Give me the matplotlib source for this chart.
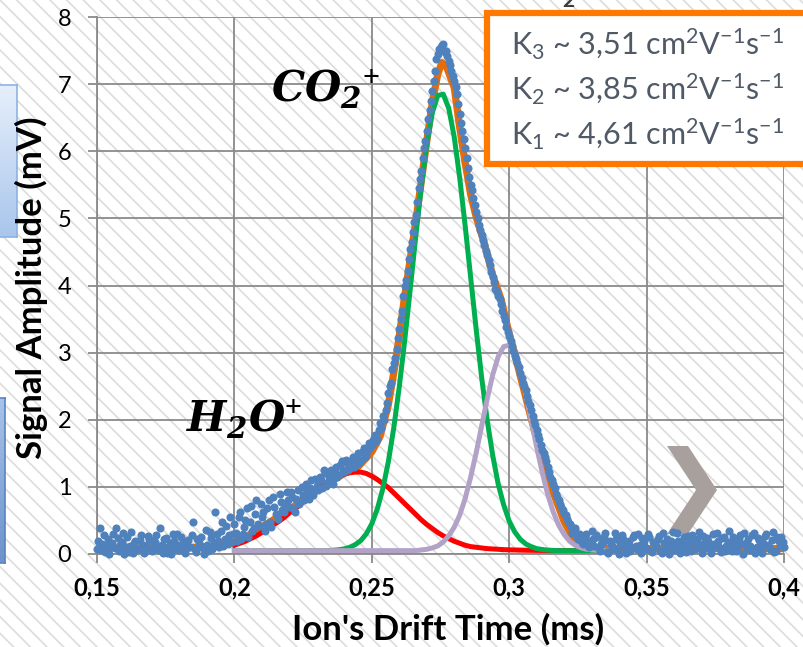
import numpy as np
import matplotlib.pyplot as plt
from matplotlib.patches import Rectangle, Polygon
from matplotlib.colors import LinearSegmentedColormap

plt.rcParams['font.family'] = ['Lato', 'DejaVu Sans']
plt.rcParams['mathtext.fontset'] = 'custom'
plt.rcParams['mathtext.rm'] = 'Lato'
plt.rcParams['mathtext.it'] = 'Lato:italic'
plt.rcParams['mathtext.bf'] = 'Lato:bold'
plt.rcParams['mathtext.bfit'] = 'DejaVu Serif:italic:bold'
plt.rcParams['hatch.linewidth'] = 1.2
plt.rcParams['hatch.color'] = '#dcdcdc'

W, H = 804, 647

def fx(px):
    return px / W

def fy(py):
    return 1 - py / H

# measured signal, one sample every 0.001 ms from 0.150 to 0.400
signal_time = np.round(np.arange(0.150, 0.4001, 0.001), 4)
signal_mv = [
    0.08, 0.38, 0.15, 0.03, 0.22, 0.10, 0.30, 0.39, 0.05, 0.18,
    0.00, 0.25, 0.12, 0.02, 0.20, 0.08, 0.28, 0.01, 0.14, 0.22,
    0.04, 0.18, 0.09, 0.39, 0.02, 0.24, 0.11, 0.00, 0.19, 0.30,
    0.06, 0.15, 0.01, 0.21, 0.10, 0.47, 0.03, 0.17, 0.26, 0.00,
    0.14, 0.33, 0.08, 0.62, 0.20, 0.35, 0.12, 0.42, 0.28, 0.18,
    0.45, 0.20, 0.62, 0.30, 0.50, 0.25, 0.72, 0.38, 0.80, 0.42,
    0.55, 0.35, 0.68, 0.48, 0.85, 0.60, 0.52, 0.78, 0.62, 0.92,
    0.70, 0.85, 0.62, 0.95, 0.78, 0.88, 1.05, 0.82, 1.10, 0.95,
    1.02, 1.15, 0.98, 1.20, 1.08, 1.25, 1.05, 1.30, 1.18, 1.38,
    1.22, 1.35, 1.28, 1.45, 1.32, 1.50, 1.40, 1.58, 1.48, 1.65,
    1.62, 1.78, 1.72, 1.95, 2.05, 2.15, 2.40, 2.55, 2.85, 3.05,
    3.35, 3.62, 4.00, 4.22, 4.55, 4.80, 5.05, 5.45, 5.70, 6.05,
    6.30, 6.62, 6.90, 7.20, 7.45, 7.55, 7.60, 7.50, 7.35, 7.20,
    7.05, 6.85, 6.55, 6.30, 6.05, 5.75, 5.50, 5.30, 5.10, 4.90,
    4.75, 4.60, 4.45, 4.30, 4.12, 3.95, 3.85, 3.72, 3.55, 3.38,
    3.25, 3.10, 2.95, 2.85, 2.70, 2.55, 2.45, 2.28, 2.15, 1.98,
    1.85, 1.72, 1.55, 1.45, 1.30, 1.15, 1.05, 0.90, 0.80, 0.70,
    0.60, 0.52, 0.45, 0.32, 0.38, 0.22, 0.28, 0.15, 0.30, 0.10,
    0.35, 0.12, 0.25, 0.05, 0.18, 0.32, 0.02, 0.15, 0.08, 0.22,
    0.00, 0.28, 0.10, 0.17, 0.04, 0.25, 0.12, 0.30, 0.01, 0.19,
    0.08, 0.26, 0.03, 0.15, 0.22, 0.05, 0.31, 0.11, 0.00, 0.20,
    0.14, 0.32, 0.02, 0.18, 0.09, 0.27, 0.04, 0.21, 0.13, 0.33,
    0.01, 0.16, 0.24, 0.07, 0.30, 0.10, 0.19, 0.03, 0.26, 0.12,
    0.34, 0.05, 0.20, 0.09, 0.28, 0.00, 0.17, 0.23, 0.06, 0.31,
    0.11, 0.21, 0.02, 0.27, 0.14, 0.08, 0.33, 0.04, 0.19, 0.25, 0.10,
]

# second sweep, sampled half way between (0.1505 .. 0.3995)
signal_time_b = np.round(np.arange(0.1505, 0.4000, 0.001), 4)
signal_mv_b = [
    0.20, 0.06, 0.28, 0.12, 0.00, 0.17, 0.09, 0.24, 0.13, 0.31,
    0.10, 0.03, 0.33, 0.16, 0.07, 0.21, 0.12, 0.05, 0.27, 0.09,
    0.19, 0.28, 0.06, 0.14, 0.23, 0.01, 0.16, 0.30, 0.08, 0.13,
    0.25, 0.04, 0.18, 0.11, 0.29, 0.07, 0.22, 0.13, 0.09, 0.36,
    0.05, 0.24, 0.17, 0.30, 0.11, 0.48, 0.22, 0.15, 0.55, 0.30,
    0.32, 0.55, 0.22, 0.40, 0.68, 0.48, 0.35, 0.60, 0.45, 0.75,
    0.62, 0.45, 0.80, 0.40, 0.70, 0.58, 0.90, 0.65, 0.72, 0.80,
    0.92, 0.68, 0.82, 0.75, 1.00, 0.80, 0.92, 0.98, 0.88, 1.12,
    0.95, 1.10, 1.25, 1.02, 1.15, 1.12, 1.22, 1.15, 1.32, 1.25,
    1.40, 1.25, 1.38, 1.30, 1.42, 1.35, 1.52, 1.45, 1.55, 1.60,
    1.70, 1.68, 1.85, 1.88, 2.00,
    2.25, 2.50, 2.75, 2.92, 3.22,
    3.50, 3.85, 4.08, 4.40, 4.65,
    4.95, 5.25, 5.58, 5.90, 6.15,
    6.48, 6.75, 7.05, 7.38, 7.52,
    7.58, 7.48, 7.42, 7.28, 7.12,
    6.95, 6.70, 6.42, 6.18, 5.90,
    5.62, 5.42, 5.20, 5.00, 4.82,
    4.68, 4.52, 4.38, 4.20, 4.05,
    3.90, 3.80, 3.62, 3.48, 3.30,
    3.18, 3.02, 2.90, 2.78, 2.62,
    2.50, 2.36, 2.22, 2.05, 1.92,
    1.78, 1.62, 1.50, 1.38, 1.22,
    1.10, 0.98, 0.85, 0.75, 0.65,
    0.58, 0.48, 0.40, 0.35, 0.26,
    0.30, 0.18, 0.24, 0.12, 0.20,
    0.22, 0.28, 0.09, 0.15, 0.26, 0.03, 0.20, 0.12, 0.31, 0.06,
    0.16, 0.23, 0.02, 0.19, 0.10, 0.29, 0.07, 0.14, 0.24, 0.11,
    0.30, 0.05, 0.18, 0.12, 0.27, 0.01, 0.16, 0.22, 0.09, 0.33,
    0.06, 0.20, 0.11, 0.25, 0.03, 0.17, 0.29, 0.08, 0.23, 0.14,
    0.27, 0.09, 0.20, 0.02, 0.15, 0.32, 0.11, 0.24, 0.05, 0.18,
    0.13, 0.26, 0.04, 0.22, 0.15, 0.31, 0.08, 0.12, 0.28, 0.02,
    0.24, 0.07, 0.17, 0.30, 0.10, 0.21, 0.03, 0.26, 0.13, 0.18,
]

# total fit (orange)
fit_time = [0.150, 0.170, 0.190, 0.200, 0.205, 0.210, 0.215, 0.220, 0.225, 0.230,
            0.235, 0.240, 0.245, 0.250, 0.253, 0.256, 0.258, 0.260, 0.262, 0.264,
            0.266, 0.268, 0.270, 0.272, 0.274, 0.2755, 0.277, 0.280, 0.282, 0.284,
            0.286, 0.288, 0.291, 0.294, 0.297, 0.300, 0.302, 0.305, 0.308, 0.310,
            0.313, 0.316, 0.320, 0.323, 0.326, 0.330, 0.340, 0.400]
fit_total = [0.09, 0.09, 0.10, 0.18, 0.27, 0.40, 0.53, 0.66, 0.81, 0.96,
             1.08, 1.20, 1.30, 1.52, 1.75, 2.22, 2.70, 3.25, 3.85, 4.40,
             4.95, 5.55, 6.15, 6.72, 7.15, 7.32, 7.28, 6.95, 6.35, 5.82,
             5.35, 5.02, 4.62, 4.15, 3.80, 3.28, 2.98, 2.50, 2.02, 1.72,
             1.32, 0.92, 0.48, 0.26, 0.14, 0.09, 0.08, 0.08]

# single peaks, every 0.002 ms from 0.200 to 0.340
comp_time = np.round(np.arange(0.200, 0.3401, 0.002), 3)
peak_h2o = [0.13, 0.16, 0.19, 0.23, 0.27, 0.32, 0.37, 0.43, 0.48, 0.54,
            0.61, 0.67, 0.74, 0.81, 0.88, 0.95, 1.01, 1.07, 1.12, 1.16,
            1.19, 1.21, 1.22, 1.22, 1.20, 1.16, 1.11, 1.05, 0.99, 0.91,
            0.83, 0.75, 0.67, 0.59, 0.51, 0.44, 0.38, 0.32, 0.27, 0.23,
            0.19, 0.16, 0.13, 0.11, 0.10, 0.09, 0.08, 0.075, 0.07, 0.065,
            0.062, 0.06, 0.058, 0.056, 0.055, 0.054, 0.053, 0.052, 0.051, 0.05] + [0.05] * 11
peak_co2 = [0.05] * 18 + [
            0.057, 0.064, 0.077, 0.10, 0.14, 0.20, 0.30, 0.45, 0.67, 0.97,
            1.37, 1.88, 2.49, 3.19, 3.95, 4.73, 5.47, 6.10, 6.57, 6.83,
            6.85, 6.64, 6.21, 5.60, 4.88, 4.11, 3.34, 2.62, 1.99, 1.47,
            1.04, 0.73, 0.49, 0.33, 0.22, 0.15, 0.11, 0.08, 0.067, 0.058,
            0.054] + [0.05] * 12
peak_3 = [0.05] * 34 + [
          0.06, 0.07, 0.09, 0.12, 0.18, 0.27,
          0.40, 0.58, 0.83, 1.15, 1.51, 1.91, 2.31, 2.67, 2.94, 3.09,
          3.11, 2.98, 2.73, 2.39, 1.99, 1.59, 1.22, 0.89, 0.63, 0.43,
          0.29, 0.19, 0.13, 0.094, 0.073, 0.061, 0.055] + [0.05] * 4

x_ticks = [0.15, 0.2, 0.25, 0.3, 0.35, 0.4]
x_tick_labels = ['0,15', '0,2', '0,25', '0,3', '0,35', '0,4']
y_ticks = [0, 1, 2, 3, 4, 5, 6, 7, 8]

mobilities = [('3', '3,51'), ('2', '3,85'), ('1', '4,61')]

grid_col = '#8a8a8a'
dot_col = '#4f81bd'

fig = plt.figure(figsize=(W / 100, H / 100), dpi=100)
fig.patch.set_facecolor('white')

# hatched slide background
fig.add_artist(Rectangle((0, 0), 1, 1, transform=fig.transFigure, facecolor='white',
                         edgecolor='#dcdcdc', hatch='\\\\', lw=0, zorder=-10))

ax = fig.add_axes([fx(97), fy(554), fx(784) - fx(97), fy(17) - fy(554)])
ax.set_facecolor('none')
ax.set_axisbelow(True)

ax.plot(fit_time, fit_total, color='#e46c0a', lw=5.2, zorder=2, solid_capstyle='butt')
ax.plot(comp_time, peak_h2o, color='#ff0000', lw=3.6, zorder=2.1)
ax.plot(comp_time, peak_co2, color='#00b050', lw=3.6, zorder=2.2)
ax.plot(comp_time, peak_3, color='#b3a2c7', lw=3.6, zorder=2.3)
ax.scatter(signal_time, signal_mv, s=34, color=dot_col, linewidths=0, zorder=3, clip_on=False)
ax.scatter(signal_time_b, signal_mv_b, s=34, color=dot_col, linewidths=0, zorder=3, clip_on=False)

# grey chevron from the slide
ax.add_patch(Polygon([(fx(667), fy(446)), (fx(688), fy(446)), (fx(717), fy(490)),
                      (fx(688), fy(534)), (fx(667), fy(534)), (fx(696), fy(490))],
                     closed=True, transform=fig.transFigure, facecolor='#a8a09c',
                     edgecolor='none', zorder=1))

ax.set_xlim(0.15, 0.4)
ax.set_ylim(0, 8)
ax.set_xticks(x_ticks)
ax.set_xticklabels(x_tick_labels, fontweight='bold', fontsize=17)
ax.set_yticks(y_ticks)
ax.set_yticklabels([str(v) for v in y_ticks], fontsize=17)
ax.grid(True, color=grid_col, lw=1.3)
for s in ['top', 'right']:
    ax.spines[s].set_visible(False)
for s in ['left', 'bottom']:
    ax.spines[s].set_color(grid_col)
    ax.spines[s].set_linewidth(1.3)
ax.tick_params(axis='both', direction='out', length=6.5, width=1.3, color=grid_col)
ax.tick_params(axis='y', pad=12)
ax.tick_params(axis='x', pad=10)

fig.text(fx(448), fy(629), "Ion's Drift Time (ms)", ha='center', va='center',
         fontsize=25, fontweight='bold')
fig.text(fx(31), fy(288), 'Signal Amplitude (mV)', ha='center', va='center',
         rotation=90, fontsize=25, fontweight='bold')

fig.text(fx(271), fy(102), r'$\mathbfit{CO}_{\mathbfit{2}}{}^{+}$', fontsize=30,
         va='baseline', zorder=4)
fig.text(fx(186), fy(432), r'$\mathbfit{H}_{\mathbfit{2}}\mathbfit{O}^{+}$', fontsize=30,
         va='baseline', zorder=4)

# mobility box
fig.add_artist(Rectangle((fx(487), fy(164)), fx(330), fy(13) - fy(164),
                         transform=fig.transFigure, facecolor='white',
                         edgecolor='#ff7800', lw=4.5, zorder=5))
for i, (k, val) in enumerate(mobilities):
    fig.text(fx(511), fy(55 + 45 * i),
             r'K$_{%s}$ ~ %s cm$^{2}$V$^{-1}$s$^{-1}$' % (k, val),
             fontsize=22, color='#4f5a66', va='baseline', zorder=6)
fig.text(fx(562), fy(7), '2', fontsize=15, fontweight='bold', color='#3c3c3c',
         va='baseline', zorder=6)

# blue boxes cut at the left edge
grad = np.linspace(0, 1, 64).reshape(-1, 1)
for (top, bot, right, c0, c1, ec) in [(85, 237, 17, '#e6effb', '#a9c6ec', '#8db3e2'),
                                       (398, 563, 5, '#a9c3e8', '#6c93cb', '#5a84c0')]:
    bx = fig.add_axes([fx(-6), fy(bot), fx(right + 6), fy(top) - fy(bot)], zorder=-1)
    bx.imshow(grad, aspect='auto', cmap=LinearSegmentedColormap.from_list('g', [c0, c1]))
    bx.set_xticks([])
    bx.set_yticks([])
    for s in bx.spines.values():
        s.set_color(ec)
        s.set_linewidth(1.2)

fig.savefig('out.png', dpi=100)
